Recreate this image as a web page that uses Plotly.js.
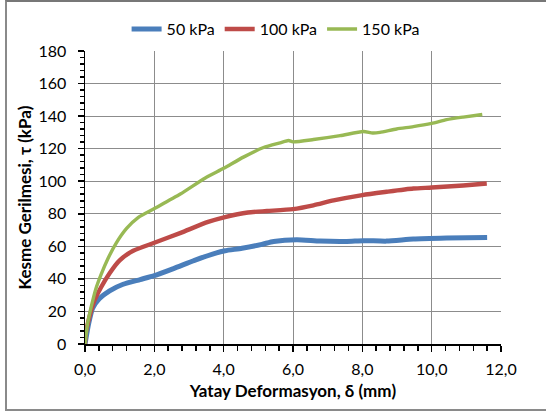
<!DOCTYPE html>
<html>
<head>
<meta charset="utf-8">
<script src="https://cdn.plot.ly/plotly-3.0.1.min.js"></script>
<style>
  html, body { margin: 0; padding: 0; background: #fff; }
  #wrap { position: relative; width: 547px; height: 416px; }
  #chart { position: absolute; left: 0; top: 0; width: 547px; height: 416px; }
  #frame { position: absolute; left: 5px; top: 0px; width: 541px; height: 411px; border: 2px solid #8a8a8a; border-right: none; border-top-color: #777; box-sizing: border-box; pointer-events: none; }
</style>
</head>
<body>
<div id="wrap">
  <div id="chart"></div>
  <div id="frame"></div>
</div>
<script>
// Series names
const seriesNames = ['50 kPa', '100 kPa', '150 kPa'];

// 50 kPa
const x50 = [0, 0.02, 0.1, 0.22, 0.41, 0.71, 1.1, 1.59, 2.0, 2.57, 3.16, 3.75, 4.04, 4.53, 5.1, 5.44, 6.11, 6.78, 7.55, 8.03, 8.7, 9.47, 10.43, 11.6];
const y50 = [0, 2.4, 12, 22, 27.8, 32.7, 36.7, 39.6, 42, 46.5, 51.4, 55.7, 57.3, 58.8, 61.2, 63, 64.1, 63.2, 63, 63.5, 63.2, 64.5, 65.1, 65.5];

// 100 kPa
const x100 = [0, 0.02, 0.12, 0.26, 0.46, 0.71, 1.0, 1.39, 2.0, 2.76, 3.55, 4.04, 4.7, 5.25, 6.0, 6.59, 7.17, 8.0, 8.7, 9.47, 10.0, 10.91, 11.59];
const y100 = [0, 6, 16, 26, 34.7, 43.5, 51.4, 57.3, 62.2, 68.3, 75, 78, 80.8, 81.7, 82.9, 85.2, 88.2, 91.5, 93.5, 95.5, 96.1, 97.4, 98.6];

// 150 kPa
const x150 = [0, 0.07, 0.17, 0.31, 0.46, 0.66, 0.9, 1.2, 1.54, 2.0, 2.75, 3.47, 4.0, 4.57, 5.15, 5.63, 5.87, 6.0, 6.59, 7.36, 8.03, 8.3, 8.51, 8.99, 9.47, 10.0, 10.43, 10.91, 11.46];
const y150 = [0, 12, 22, 33.7, 42.5, 52.4, 62, 71, 77.8, 83.2, 92.1, 102, 107.9, 114.8, 120.7, 123.6, 125, 124.2, 125.6, 128, 130.5, 129.6, 130, 132.1, 133.5, 135.5, 137.8, 139.4, 141];

const colors = ['#4A7EBB', '#BE4B48', '#98B954'];
const widths = [5, 4.4, 3.4];

const xs = [x50, x100, x150];
const ys = [y50, y100, y150];

const traces = seriesNames.map((n, i) => ({
  x: xs[i], y: ys[i], name: n, type: 'scatter', mode: 'lines',
  line: { color: colors[i], width: widths[i], shape: 'spline', smoothing: 0.6 }
}));

const fontFam = 'Lato, "Open Sans", sans-serif';

const layout = {
  width: 547, height: 416,
  margin: { l: 85, r: 46, t: 40, b: 72 },
  paper_bgcolor: '#ffffff', plot_bgcolor: '#ffffff',
  separators: ',.',
  font: { family: fontFam, size: 16, color: '#000' },
  showlegend: true,
  legend: {
    orientation: 'h', x: 0.1, xanchor: 'left', y: 1.075, yanchor: 'middle',
    font: { family: fontFam, size: 16, color: '#000' },
    itemwidth: 30, tracegroupgap: 0, bgcolor: 'rgba(0,0,0,0)'
  },
  xaxis: {
    range: [0, 12], dtick: 2, tick0: 0, tickformat: '.1f',
    showgrid: true, gridcolor: '#8c8c8c', gridwidth: 1,
    showline: true, linecolor: '#000', linewidth: 1.5,
    ticks: 'outside', ticklen: 6, tickcolor: '#000', tickwidth: 1.5,
    minor: { dtick: 0.4, ticks: 'outside', ticklen: 5, tickcolor: '#000', showgrid: false },
    zeroline: false,
    tickfont: { family: fontFam, size: 16 },
    ticklabelstandoff: 4,
    title: { text: '<b>Yatay Deformasyon, δ (mm)</b>', font: { family: fontFam, size: 17 }, standoff: 8 }
  },
  yaxis: {
    range: [0, 180], dtick: 20, tick0: 0,
    showgrid: true, gridcolor: '#8c8c8c', gridwidth: 1,
    showline: true, linecolor: '#000', linewidth: 1.5,
    ticks: 'outside', ticklen: 6, tickcolor: '#000', tickwidth: 1.5,
    minor: { dtick: 4, ticks: 'outside', ticklen: 4, tickcolor: '#000', showgrid: false },
    zeroline: false,
    tickfont: { family: fontFam, size: 16 },
    ticklabelstandoff: 8,
    title: { text: '<b>Kesme Gerilmesi, τ (kPa)</b>', font: { family: fontFam, size: 17 }, standoff: 2 }
  }
};

Plotly.newPlot('chart', traces, layout, { displayModeBar: false, staticPlot: true });
</script>
</body>
</html>
